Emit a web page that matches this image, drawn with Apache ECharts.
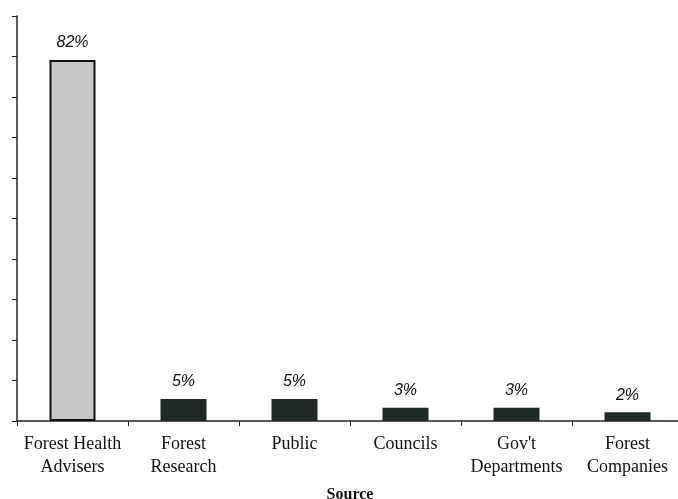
<!DOCTYPE html>
<html>
<head>
<meta charset="utf-8">
<style>
  html, body { margin: 0; padding: 0; background: #fff; }
  #chart { width: 678px; height: 499px; }
</style>
<script src="https://cdn.jsdelivr.net/npm/echarts@6/dist/echarts.min.js"></script>
</head>
<body>
<div id="chart"></div>
<script>
// sources of information (percent of responses)
var categories = ['Forest Health\nAdvisers', 'Forest\nResearch', 'Public', 'Councils', "Gov't\nDepartments", 'Forest\nCompanies'];
var values = [82, 5, 5, 3, 3, 2];
var barColors = ['#c6c6c6', '#1f2a27', '#1f2a27', '#1f2a27', '#1f2a27', '#1f2a27'];

var myChart = echarts.init(document.getElementById('chart'));

var option = {
    backgroundColor: '#fff',
    animation: false,
    grid: {
        left: 17,
        right: -5,
        top: 16,
        bottom: 78,
        outerBoundsMode: 'none'
    },
    xAxis: {
        type: 'category',
        data: categories,
        name: 'Source',
        nameLocation: 'middle',
        nameGap: 66,
        nameTextStyle: {
            fontFamily: 'Liberation Serif',
            fontSize: 16,
            fontWeight: 'bold',
            color: '#111'
        },
        axisLine: { lineStyle: { color: '#222', width: 1.5 } },
        axisTick: { show: true, length: 5, alignWithLabel: false, lineStyle: { color: '#222' } },
        axisLabel: {
            interval: 0,
            margin: 12,
            fontFamily: 'Liberation Serif',
            fontSize: 18,
            lineHeight: 23,
            color: '#111'
        }
    },
    yAxis: {
        type: 'value',
        min: 0,
        max: 92,
        interval: 9.2,
        axisLine: { show: true, lineStyle: { color: '#222', width: 1.5 } },
        axisTick: { show: true, length: 5, lineStyle: { color: '#222' } },
        axisLabel: { show: false },
        splitLine: { show: false }
    },
    series: [
        {
            type: 'bar',
            barWidth: 46,
            data: values.map(function (v, i) {
                return {
                    value: v,
                    itemStyle: {
                        color: barColors[i],
                        borderColor: '#111',
                        borderWidth: i === 0 ? 2 : 0
                    }
                };
            }),
            label: {
                show: true,
                position: 'top',
                distance: 9,
                formatter: '{c}%',
                fontFamily: 'Liberation Sans',
                fontStyle: 'italic',
                fontSize: 16,
                color: '#111'
            }
        }
    ]
};

myChart.setOption(option);
</script>
</body>
</html>
